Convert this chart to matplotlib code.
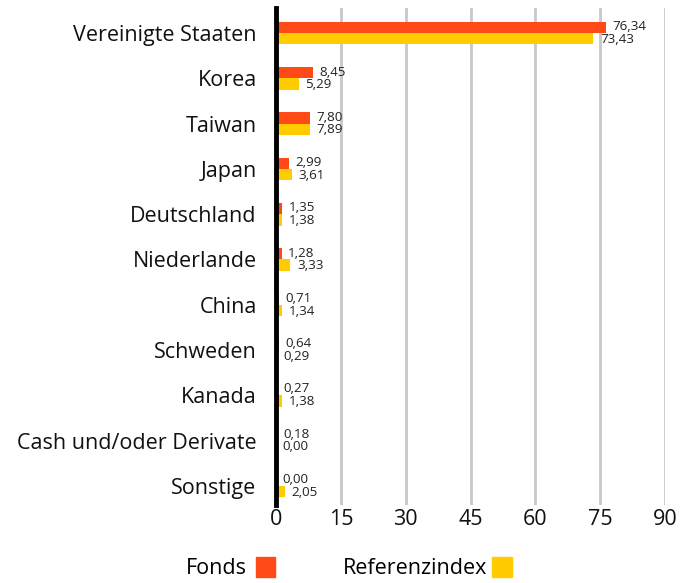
import numpy as np
import matplotlib
matplotlib.use("Agg")
import matplotlib.pyplot as plt
from matplotlib.patches import Rectangle

laender = ["Vereinigte Staaten", "Korea", "Taiwan", "Japan", "Deutschland",
           "Niederlande", "China", "Schweden", "Kanada",
           "Cash und/oder Derivate", "Sonstige"]
fonds = [76.34, 8.45, 7.80, 2.99, 1.35, 1.28, 0.71, 0.64, 0.27, 0.18, 0.00]
referenz = [73.43, 5.29, 7.89, 3.61, 1.38, 3.33, 1.34, 0.29, 1.38, 0.00, 2.05]

orange = "#ff4a17"
gelb = "#ffcc00"

plt.rcParams['font.family'] = ['Open Sans', 'DejaVu Sans']

fig = plt.figure(figsize=(6.92, 5.83), dpi=100)
ax = fig.add_axes([0.399, 0.134, 0.562, 0.852])

y = np.arange(len(laender))
h = 0.25
ax.barh(y - h / 2, fonds, height=h, color=orange, zorder=3)
ax.barh(y + h / 2, referenz, height=h, color=gelb, zorder=3)

def zahl(v):
    return f"{v:.2f}".replace(".", ",")

for i in range(len(laender)):
    ax.text(fonds[i] + 1.5, y[i] - 0.14, zahl(fonds[i]), fontsize=9.6,
            va="center", ha="left", color="#222222")
    ax.text(referenz[i] + 1.5, y[i] + 0.14, zahl(referenz[i]), fontsize=9.6,
            va="center", ha="left", color="#222222")

ax.set_xlim(0, 90)
ax.set_ylim(10.42, -0.55)
ax.set_xticks(np.arange(0, 91, 15))
ax.set_yticks(y)
ax.set_yticklabels(laender)
ax.tick_params(axis="both", length=0, labelsize=15.5, colors="#111111")
ax.tick_params(axis="y", pad=14)
ax.tick_params(axis="x", pad=3)
ax.grid(axis="x", color="#c8c8c8", linewidth=2, zorder=0)
for s in ["top", "right", "bottom"]:
    ax.spines[s].set_visible(False)
ax.spines["left"].set_linewidth(3.5)
ax.spines["left"].set_color("black")
ax.spines["left"].set_zorder(4)

# Legende unten
fig.text(247 / 692, 1 - 569 / 583, "Fonds", fontsize=15.5, ha="right", va="center")
fig.patches.append(Rectangle((256 / 692, 1 - 577 / 583), 19 / 692, 20 / 583,
                             transform=fig.transFigure, color=orange))
fig.text(487 / 692, 1 - 569 / 583, "Referenzindex", fontsize=15.5, ha="right", va="center")
fig.patches.append(Rectangle((492 / 692, 1 - 577 / 583), 20 / 692, 20 / 583,
                             transform=fig.transFigure, color=gelb))

plt.savefig("out.png", dpi=100)
